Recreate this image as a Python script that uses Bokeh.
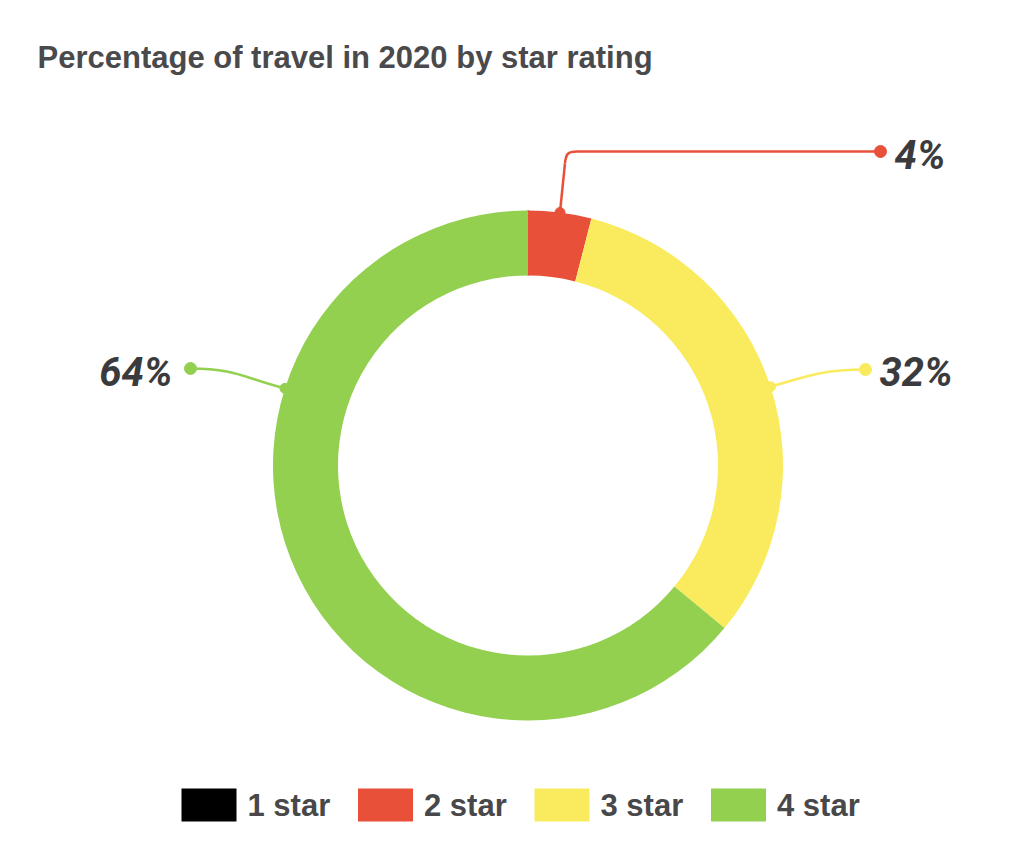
import math
from bokeh.plotting import figure
from bokeh.models import Range1d
from bokeh.core.properties import value
from bokeh.embed import file_html
from bokeh.resources import INLINE

# ---- data ----
categories = ["1 star", "2 star", "3 star", "4 star"]
percentages = [0, 4, 32, 64]
colors = ["#000000", "#E9503A", "#FAEB5E", "#93D04F"]
title_text = "Percentage of travel in 2020 by star rating"

# ---- layout (image pixel coords; y flipped into data space) ----
W, H = 1008, 848
def Y(img_y):
    return 864 - img_y

CX, CY = 527.5, Y(465)
R_OUT, R_IN = 255, 190

p = figure(width=W, height=H, output_backend="svg", toolbar_location=None,
           x_range=Range1d(0, W), y_range=Range1d(864 - H, 864),
           min_border=0)
p.axis.visible = False
p.grid.visible = False
p.outline_line_color = None
p.background_fill_color = "white"
p.border_fill_color = "white"

total = float(sum(percentages))
cum = 0.0
starts, ends, mids = [], [], []
for v in percentages:
    a0 = math.pi / 2 - 2 * math.pi * cum / total
    cum += v
    a1 = math.pi / 2 - 2 * math.pi * cum / total
    starts.append(a0); ends.append(a1); mids.append((a0 + a1) / 2)

for c, v, a0, a1 in zip(colors, percentages, starts, ends):
    if v > 0:
        p.annular_wedge(x=CX, y=CY, inner_radius=R_IN, outer_radius=R_OUT,
                        start_angle=a0, end_angle=a1, direction="clock",
                        fill_color=c, line_color=None)
    else:
        p.segment(x0=CX + R_IN * math.cos(a0), y0=CY + R_IN * math.sin(a0),
                  x1=CX + R_OUT * math.cos(a0), y1=CY + R_OUT * math.sin(a0),
                  line_color=c, line_width=1.2)

LBL_FONT = value("Roboto")
LBL_SIZE = "40px"
TXT = "#3b3b3d"

def anchor(angle):
    return CX + R_OUT * math.cos(angle), CY + R_OUT * math.sin(angle)

# 2 star leader (up and right)
ax, ay = anchor(mids[1])
lc = colors[1]
ex, ey = 880, Y(151)
p.line([ax, ax + 5, ], [ay, Y(163)], line_color=lc, line_width=2.5)
p.bezier(x0=ax + 5, y0=Y(163), x1=ax + 17, y1=ey, cx0=ax + 6, cy0=Y(153),
         cx1=ax + 8, cy1=ey, line_color=lc, line_width=2.5)
p.line([ax + 17, ex], [ey, ey], line_color=lc, line_width=2.5)
p.scatter([ax], [ay], size=10, color=lc)
p.scatter([ex], [ey], size=12, color=lc)
p.text([ex + 14], [Y(155)], text=[f"{percentages[1]}%"], text_font=LBL_FONT,
       text_font_size=LBL_SIZE, text_font_style="bold italic", text_color=TXT,
       text_baseline="middle", text_align="left")

# 3 star leader (right)
lc = colors[2]
ax, ay = anchor(mids[2])
ex, ey = 865, Y(369)
p.bezier(x0=ax, y0=ay, x1=ex, y1=ey, cx0=ax + 40, cy0=ay + 12,
         cx1=ex - 40, cy1=ey, line_color=lc, line_width=2.5)
p.scatter([ax], [ay], size=10, color=lc)
p.scatter([ex], [ey], size=12, color=lc)
p.text([ex + 14], [Y(372)], text=[f"{percentages[2]}%"], text_font=LBL_FONT,
       text_font_size=LBL_SIZE, text_font_style="bold italic", text_color=TXT,
       text_baseline="middle", text_align="left")

# 4 star leader (left) - label anchored on the upper-left part of its arc
lc = colors[3]
a4 = math.radians(90 + 72.4)
ax, ay = anchor(a4)
ex, ey = 190, Y(368)
p.bezier(x0=ex, y0=ey, x1=ax, y1=ay, cx0=ex + 45, cy0=ey,
         cx1=ax - 40, cy1=ay + 10, line_color=lc, line_width=2.5)
p.scatter([ax], [ay], size=10, color=lc)
p.scatter([ex], [ey], size=12, color=lc)
p.text([ex - 18], [Y(372)], text=[f"{percentages[3]}%"], text_font=LBL_FONT,
       text_font_size=LBL_SIZE, text_font_style="bold italic", text_color=TXT,
       text_baseline="middle", text_align="right")

# title
p.text([37], [Y(57)], text=[title_text], text_font=value("Liberation Sans"),
       text_font_size="31px", text_font_style="bold", text_color="#4a4a4c",
       text_baseline="middle", text_align="left")

# legend
lx = [208.5 + i * 176.5 for i in range(len(categories))]
ly = [Y(804.5)] * len(categories)
p.rect(x=lx, y=ly, width=55, height=33, fill_color=colors, line_color=None)
p.text(x=[x + 38.5 for x in lx], y=[Y(805)] * len(categories), text=categories,
       text_font=value("Liberation Sans"), text_font_size="31px",
       text_font_style="bold", text_color="#48484a",
       text_baseline="middle", text_align="left")

open("out.html", "w").write(file_html(p, INLINE))
